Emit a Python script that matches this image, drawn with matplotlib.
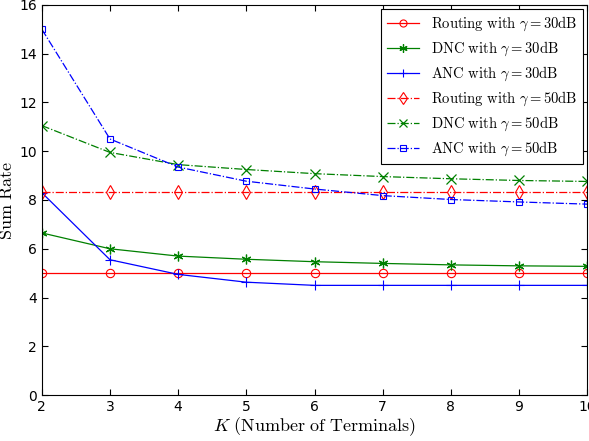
import matplotlib
matplotlib.use("Agg")
import matplotlib.pyplot as plt

plt.rcParams['mathtext.fontset'] = 'cm'
plt.rcParams['font.family'] = ['DejaVu Sans']

K = [2, 3, 4, 5, 6, 7, 8, 9, 10]

routing_30 = [5.0, 5.0, 5.0, 5.0, 5.0, 5.0, 5.0, 5.0, 5.0]
dnc_30 = [6.65, 6.0, 5.7, 5.57, 5.47, 5.4, 5.34, 5.3, 5.28]
anc_30 = [8.3, 5.55, 4.95, 4.63, 4.5, 4.5, 4.5, 4.5, 4.5]
routing_50 = [8.32, 8.32, 8.32, 8.32, 8.32, 8.32, 8.32, 8.32, 8.32]
dnc_50 = [11.05, 9.95, 9.45, 9.25, 9.08, 8.96, 8.87, 8.8, 8.76]
anc_50 = [15.0, 10.5, 9.35, 8.77, 8.45, 8.18, 8.02, 7.92, 7.83]

labels = [
    r'$\mathrm{Routing\ with}\ \gamma = 30\mathrm{dB}$',
    r'$\mathrm{DNC\ with}\ \gamma = 30\mathrm{dB}$',
    r'$\mathrm{ANC\ with}\ \gamma = 30\mathrm{dB}$',
    r'$\mathrm{Routing\ with}\ \gamma = 50\mathrm{dB}$',
    r'$\mathrm{DNC\ with}\ \gamma = 50\mathrm{dB}$',
    r'$\mathrm{ANC\ with}\ \gamma = 50\mathrm{dB}$',
]

fig = plt.figure(figsize=(5.89, 4.41), dpi=100)
ax = fig.add_axes([0.071, 0.104, 0.926, 0.885])

green = '#008000'
lw = 0.9
ax.plot(K, routing_30, '-', color='red', marker='o', mfc='none', ms=6, mew=0.8, lw=lw, label=labels[0])
ax.plot(K, dnc_30, '-', color=green, marker=(6, 2, 0), ms=7, mew=0.9, lw=lw, label=labels[1])
ax.plot(K, anc_30, '-', color='blue', marker='+', ms=7, mew=0.8, lw=lw, label=labels[2])
ax.plot(K, routing_50, '-.', color='red', marker='d', mfc='none', ms=7, mew=0.8, lw=lw, label=labels[3])
ax.plot(K, dnc_50, '-.', color=green, marker='x', ms=7, mew=0.9, lw=lw, label=labels[4])
ax.plot(K, anc_50, '-.', color='blue', marker='s', mfc='none', ms=5, mew=0.8, lw=lw, label=labels[5])

ax.set_xlim(2, 10)
ax.set_ylim(0, 16)
ax.set_xticks(K)
ax.set_yticks(range(0, 17, 2))
ax.tick_params(direction='in', top=True, right=True, labelsize=10, length=4)
ax.set_xlabel(r'$K\ \mathrm{(Number\ of\ Terminals)}$', fontsize=13, labelpad=1)
ax.set_ylabel(r'$\mathrm{Sum\ Rate}$', fontsize=13, labelpad=2)

leg = ax.legend(loc='upper right', fontsize=10.5, fancybox=False, framealpha=1,
                edgecolor='black', borderaxespad=0.3, handlelength=2.2, labelspacing=0.45,
                markerscale=0.85)
leg.get_frame().set_linewidth(0.8)

fig.savefig('out.png', dpi=100)
